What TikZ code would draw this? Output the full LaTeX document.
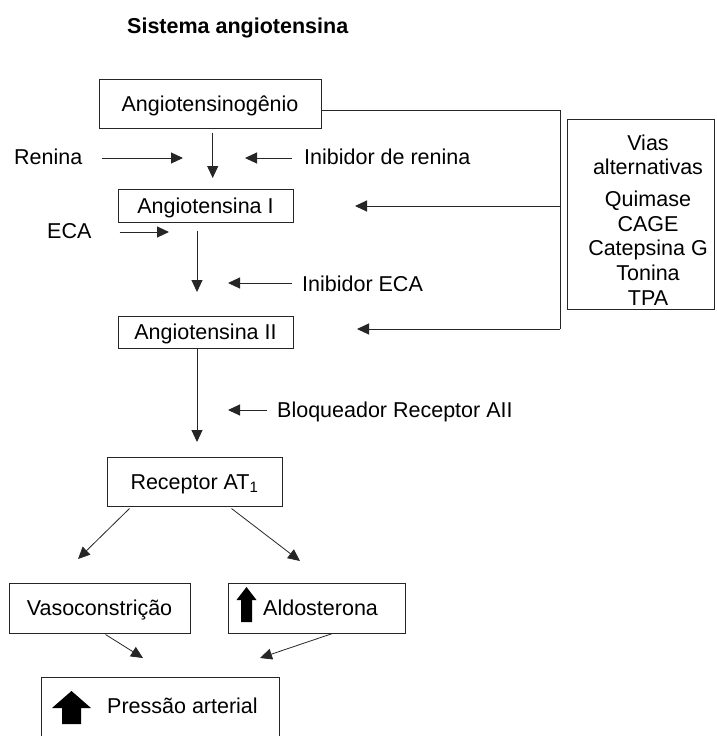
\documentclass[tikz,border=0pt]{standalone}
\usepackage{fontspec}
\setmainfont{Liberation Sans}
\usetikzlibrary{arrows.meta,calc}
\begin{document}
\begin{tikzpicture}[x=1pt,y=-1pt,
  every node/.style={font=\fontsize{21.5}{25}\selectfont},
  box/.style={draw=black!85,line width=1pt,inner sep=0pt},
  ctext/.style={text height=15.4pt,text depth=0pt},
  lbl/.style={inner sep=0pt,text height=15.4pt,text depth=0pt,anchor=west},
  arr/.style={draw=black!85,line width=1pt,-{Triangle[length=12pt,width=11pt]}},
  darr/.style={draw=black!85,line width=0.8pt,-{Triangle[length=12pt,width=11pt]}},
  line/.style={draw=black!85,line width=1pt},
  uparrow/.style={fill=black,draw=none}]
\useasboundingbox (0,0) rectangle (716,736);
\begin{scope}
\clip (0,0) rectangle (716,736);
% title
\node[lbl,font=\fontsize{21.5}{25}\selectfont\bfseries] (title) at (127,25.5) {Sistema angiotensina};
% main boxes
\node[box,ctext,minimum width=222pt,minimum height=49pt] (ango) at (210,103.5) {Angiotensinogênio};
\node[box,ctext,minimum width=175pt,minimum height=33pt] (a1) at (205.5,205.5) {Angiotensina I};
\node[box,ctext,minimum width=175pt,minimum height=32pt] (a2) at (205.5,332) {Angiotensina II};
\node[box,ctext,minimum width=175pt,minimum height=49pt] (rec) at (194.5,481.5) {Receptor AT\textsubscript{1}};
\node[box,ctext,minimum width=181pt,minimum height=50pt] (vaso) at (99.5,608) {Vasoconstrição};
\node[box,minimum width=177pt,minimum height=50pt] (aldo) at (316.5,608) {};
\node[lbl] (aldotext) at (263,608) {Aldosterona};
\node[box,minimum width=238pt,minimum height=68pt] (press) at (160,711) {};
\node[lbl] (presstext) at (107,706) {Pressão arterial};
% alternative pathways box
\node[box,minimum width=147pt,minimum height=190pt] (vias) at (640.5,214) {};
\node[inner sep=0pt,align=center,font=\fontsize{21.5}{24.8}\selectfont] (viastext) at (648,220)
  {Vias\\alternativas\\[6.5pt]Quimase\\CAGE\\Catepsina G\\Tonina\\TPA};
% labels
\node[lbl] (renina) at (14,157) {Renina};
\node[lbl] (inibren) at (304,157) {Inibidor de renina};
\node[lbl] (eca) at (47,231) {ECA};
\node[lbl] (inibeca) at (302,284) {Inibidor ECA};
\node[lbl] (bloq) at (277,409.5) {Bloqueador Receptor AII};
% free ends
\coordinate (c1) at (212.7,178);
\coordinate (c2) at (183,158);
\coordinate (c3) at (245,158);
\coordinate (c4) at (169,232);
\coordinate (c5) at (197,292);
\coordinate (c6) at (228,283);
\coordinate (c7) at (197,442);
\coordinate (c8) at (228,410);
\coordinate (c9) at (355,206);
\coordinate (c10) at (357,329);
\coordinate (c11) at (78,559);
\coordinate (c12) at (300,561);
\coordinate (c13) at (143,658);
\coordinate (c14) at (260,658);
\coordinate (j1) at (560,110);
\coordinate (j2) at (560,206);
\coordinate (j3) at (560,329);
% arrows
\draw[arr] ($(ango.south)+(2.7,4)$) -- (c1);
\draw[arr] ($(renina.east)+(19,1)$) -- (c2);
\draw[arr] ($(inibren.west)+(-12,1)$) -- (c3);
\draw[arr] ($(eca.east)+(28,1)$) -- (c4);
\draw[arr] ($(a1.south)+(-8.5,8)$) -- (c5);
\draw[arr] ($(inibeca.west)+(-10,-1)$) -- (c6);
\draw[arr] ($(a2.south)+(-8.5,0)$) -- (c7);
\draw[arr] ($(bloq.west)+(-10,0.5)$) -- (c8);
\draw[line] ($(ango.east)+(0,6.5)$) -- (j1) -- (j3);
\draw[arr] (j2) -- (c9);
\draw[arr] (j3) -- (c10);
\draw[darr] ($(rec.south west)+(23,2)$) -- (c11);
\draw[darr] ($(rec.south west)+(125,2)$) -- (c12);
\draw[darr] ($(vaso.south west)+(97,1)$) -- (c13);
\draw[darr] ($(aldo.south west)+(105,0)$) -- (c14);
% thick up arrows
\fill[uparrow] (246.5,587) -- (256.5,600) -- (252,600) -- (252,622) -- (241,622) -- (241,600) -- (236.5,600) -- cycle;
\fill[uparrow] (71.5,691) -- (91,708) -- (81,708) -- (81,724) -- (62,724) -- (62,708) -- (52,708) -- cycle;
\end{scope}
\end{tikzpicture}
\end{document}
